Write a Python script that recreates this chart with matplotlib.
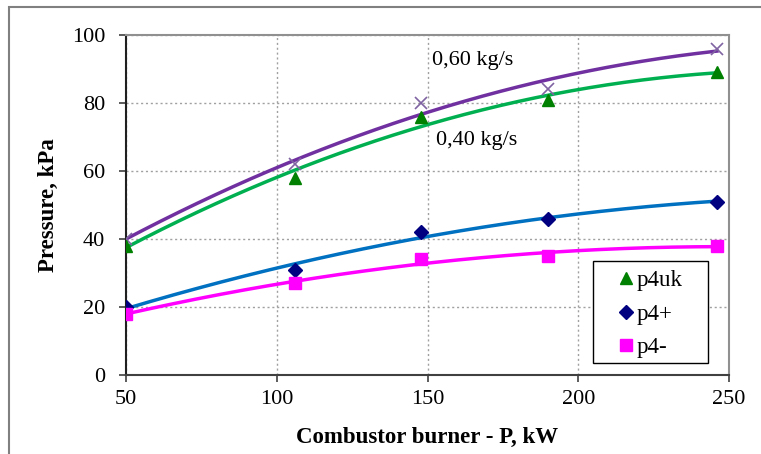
import numpy as np
import matplotlib.pyplot as plt
from matplotlib.patches import Rectangle

plt.rcParams['font.family'] = ['Liberation Serif', 'DejaVu Serif']

# burner power, kW
power = [50, 106, 148, 190, 246]

# pressures, kPa
p06 = [40, 62, 80, 84, 96]      # 0,60 kg/s
p4uk = [38, 58, 76, 81, 89]     # 0,40 kg/s
p4plus = [20, 31, 42, 46, 51]
p4minus = [18, 27, 34, 35, 38]

xticks = [50, 100, 150, 200, 250]
yticks = [0, 20, 40, 60, 80, 100]

W, H = 761, 454


def trend(x, y, deg=2):
    """2nd order polynomial trendline over the data range."""
    c = np.polyfit(x, y, deg)
    xs = np.linspace(min(x), max(x), 200)
    return xs, np.polyval(c, xs)


def fig_box(x0, y0, x1, y1, **kw):
    """Rectangle given in pixel coords from the top left corner."""
    return Rectangle((x0 / W, 1 - y1 / H), (x1 - x0) / W, (y1 - y0) / H,
                     transform=fig.transFigure, **kw)


fig = plt.figure(figsize=(W / 100, H / 100), dpi=100)
# outer frame of the figure
fig.patches.append(fig_box(9, 7, 900, 520, fill=False, edgecolor='#808080',
                           linewidth=1.5))

ax = fig.add_axes([126 / W, 79 / H, 603 / W, 340 / H])

for y, col in [(p06, '#7030A0'), (p4uk, '#00B050'),
               (p4plus, '#0070C0'), (p4minus, '#FF00FF')]:
    xs, ys = trend(power, y)
    ax.plot(xs, ys, color=col, linewidth=2.5, zorder=2)

ax.plot(power, p06, linestyle='none', marker='x', color='#8064A2',
        markersize=9, markeredgewidth=1.2, zorder=3)
ax.plot(power, p4uk, linestyle='none', marker='^', color='#008000',
        markersize=9, label='p4uk', zorder=3)
ax.plot(power, p4plus, linestyle='none', marker='D', color='#000080',
        markersize=7, label='p4+', zorder=3)
ax.plot(power, p4minus, linestyle='none', marker='s', color='#FF00FF',
        markersize=9, label='p4-', zorder=3)

ax.text(151.5, 92.6, '0,60 kg/s', fontsize=16, va='center')
ax.text(152.8, 69.1, '0,40 kg/s', fontsize=16, va='center')

ax.set_xlim(50, 250)
ax.set_ylim(0, 100)
ax.set_xticks(xticks)
ax.set_yticks(yticks)
ax.tick_params(labelsize=16, direction='out', length=5, width=1.2,
               color='#404040')
ax.tick_params(axis='x', pad=6)
ax.tick_params(axis='y', pad=10)
ax.grid(True, linestyle=(0, (1.5, 2)), color='#A0A0A0', linewidth=1)

ax.spines['left'].set_color('#202020')
ax.spines['bottom'].set_color('#404040')
ax.spines['top'].set_color('#909090')
ax.spines['right'].set_color('#909090')
for s in ax.spines.values():
    s.set_linewidth(1.5)

ax.set_xlabel('Combustor burner - P, kW', fontsize=16.5, fontweight='bold',
              labelpad=13)
ax.set_ylabel('Pressure, kPa', fontsize=16.5, fontweight='bold', labelpad=9)

# legend entries without frame, box drawn separately
leg = ax.legend(loc='upper left', bbox_to_anchor=(611 / W, 1 - 263 / H),
                bbox_transform=fig.transFigure, fontsize=16.5, frameon=False,
                handlelength=0.7, handletextpad=0.13, borderpad=0.3,
                labelspacing=0.55, borderaxespad=0)
leg.set_zorder(6)
ax.add_patch(fig_box(593, 261, 708, 363, facecolor='white',
                     edgecolor='black', linewidth=1, zorder=5, clip_on=False))

fig.savefig('out.png', dpi=100)
